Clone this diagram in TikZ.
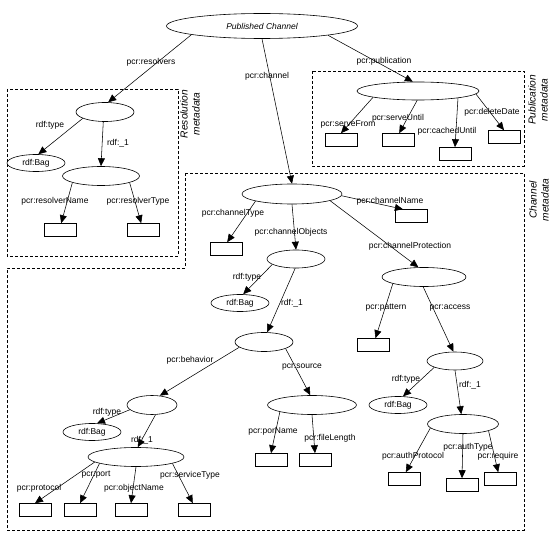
\documentclass[tikz,border=0pt]{standalone}
\usepackage{fontspec}
\setmainfont{Liberation Sans}
\usetikzlibrary{shapes.geometric,arrows.meta}

\tikzset{
  res/.style={ellipse,draw,line width=0.6pt,inner sep=0pt,minimum height=19pt,minimum width=#1},
  bag/.style={ellipse,draw,line width=0.6pt,inner sep=0pt,minimum height=17pt,minimum width=58pt},
  lit/.style={rectangle,draw,line width=0.6pt,inner sep=0pt,minimum width=32pt,minimum height=13pt},
  link/.style={-{Triangle[length=8pt,width=7pt]},line width=0.55pt},
  lbl/.style={inner sep=0pt},
  area/.style={dash pattern=on 3pt off 2pt,line width=0.6pt},
  tag/.style={rotate=90,align=center,inner sep=0pt,font=\fontsize{10.2}{12}\selectfont\itshape}
}

\begin{document}
\begin{tikzpicture}[x=1pt,y=-1pt,font=\fontsize{8.5}{10}\selectfont]
\useasboundingbox (0,0) rectangle (550,535);

\draw[area] (7,89) rectangle (178,256);
\draw[area] (312,71) rectangle (524,166);
\draw[area] (185,173) -- (524,173) -- (524,530) -- (7,530) -- (7,268) -- (185,268) -- cycle;
\node[tag] (tres) at (190,114) {Resolution\\metadata};
\node[tag] (tpub) at (538,100) {Publication\\metadata};
\node[tag] (tchan) at (539,200) {Channel\\metadata};

\node[res=191pt,minimum height=25pt,font=\fontsize{8.5}{10}\selectfont\itshape] (pc) at (262,26) {Published Channel};

\begin{scope}
\node[res=58pt] (r0) at (105,112) {};
\node[bag] (rbag) at (36,163) {rdf:Bag};
\node[res=77pt] (r1) at (101,176) {};
\node[lit] (rname) at (60,230) {};
\node[lit] (rtype) at (143,230) {};

\draw[link] (pc.187) -- (r0.72);
\draw[link] (r0.196) -- (rbag.75);
\draw[link] (r0.260) -- (r1.north);
\draw[link] (r1.193) -- (rname.80);
\draw[link] (r1.347) -- (rtype.105);

\node[lbl] (lresolvers) at (151,62) {pcr:resolvers};
\node[lbl] (lrtype) at (50,125) {rdf:type};
\node[lbl] (lrone) at (118,143) {rdf:\_1};
\node[lbl] (lrname) at (55,201) {pcr:resolverName};
\node[lbl] (lrtypename) at (138,201) {pcr:resolverType};
\end{scope}

\begin{scope}
\node[res=122pt,minimum height=18pt] (p0) at (418,91) {};
\node[lit] (sfrom) at (341,140) {};
\node[lit] (suntil) at (398,140) {};
\node[lit] (cuntil) at (455,154) {};
\node[lit] (ddate) at (504,137) {};

\draw[link] (pc.352) -- (p0.119);
\draw[link] (p0.188) -- (sfrom.north);
\draw[link] (p0.265) -- (suntil.80);
\draw[link] (p0.350) -- (cuntil.north);
\draw[link] (p0.357) -- (ddate.north);

\node[lbl] (lpub) at (384,61) {pcr:publication};
\node[lbl] (lsfrom) at (348,124) {pcr:serveFrom};
\node[lbl] (lsuntil) at (398,118) {pcr:serveUntil};
\node[lbl] (lcuntil) at (447,131) {pcr:cachedUntil};
\node[lbl] (lddate) at (492,112) {pcr:deleteDate};
\end{scope}

\begin{scope}
\node[res=100pt,minimum height=20pt] (c0) at (292,194) {};
\node[lit] (ctype) at (226,249) {};
\node[lit] (cname) at (411,216) {};
\node[res=58pt,minimum height=18pt] (c1) at (296,259) {};
\node[bag] (obag) at (240,303) {rdf:Bag};
\node[res=58pt] (c2) at (264,342) {};
\node[res=84pt] (c3) at (424,277) {};
\node[lit] (pattern) at (373,345) {};
\node[res=56pt,minimum height=18pt] (c4) at (455,361) {};
\node[bag] (abag) at (398,405) {rdf:Bag};
\node[res=71pt] (c5) at (463,424) {};
\node[lit] (aproto) at (404,479) {};
\node[lit] (atype) at (462,485) {};
\node[lit] (areq) at (500,479) {};
\node[res=50pt] (c6) at (152,405) {};
\node[bag] (bbag) at (92,432) {rdf:Bag};
\node[res=96pt] (c7) at (136,457) {};
\node[lit] (proto) at (35,510) {};
\node[lit] (port) at (80,510) {};
\node[lit] (oname) at (131,510) {};
\node[lit] (stype) at (194,510) {};
\node[res=89pt] (c8) at (312,405) {};
\node[lit] (pname) at (271,460) {};
\node[lit] (flen) at (315,460) {};

\draw[link] (pc.south) -- (c0.north);
\draw[link] (c0.191) -- (ctype.80);
\draw[link] (c0.south) -- (c1.north);
\draw[link] (c0.358) -- (cname.140);
\draw[link] (c0.350) -- (c3.120);
\draw[link] (c1.193) -- (obag.70);
\draw[link] (c1.265) -- (c2.72);
\draw[link] (c2.192) -- (c6.50);
\draw[link] (c2.343) -- (c8.100);
\draw[link] (c3.192) -- (pattern.70);
\draw[link] (c3.265) -- (c4.100);
\draw[link] (c4.197) -- (abag.60);
\draw[link] (c4.south) -- (c5.100);
\draw[link] (c5.187) -- (aproto.75);
\draw[link] (c5.south) -- (atype.north);
\draw[link] (c5.345) -- (areq.105);
\draw[link] (c6.192) -- (bbag.60);
\draw[link] (c6.290) -- (c7.80);
\draw[link] (c7.187) -- (proto.north);
\draw[link] (c7.190) -- (port.north);
\draw[link] (c7.south) -- (oname.north);
\draw[link] (c7.350) -- (stype.100);
\draw[link] (c8.192) -- (pname.north);
\draw[link] (c8.south) -- (flen.north);

\node[lbl] (lchan) at (267,76) {pcr:channel};
\node[lbl] (lctype) at (233,213) {pcr:channelType};
\node[lbl] (lcobj) at (291,232) {pcr:channelObjects};
\node[lbl] (lcname) at (390,201) {pcr:channelName};
\node[lbl] (lcprot) at (410,246) {pcr:channelProtection};
\node[lbl] (lotype) at (247,277) {rdf:type};
\node[lbl] (loone) at (292,303) {rdf:\_1};
\node[lbl] (lbehav) at (190,360) {pcr:behavior};
\node[lbl] (lsource) at (302,367) {pcr:source};
\node[lbl] (lpattern) at (386,308) {pcr:pattern};
\node[lbl] (laccess) at (450,308) {pcr:access};
\node[lbl] (latype) at (406,379) {rdf:type};
\node[lbl] (laone) at (470,385) {rdf:\_1};
\node[lbl] (laproto) at (413,456) {pcr:authProtocol};
\node[lbl] (latypename) at (468,447) {pcr:authType};
\node[lbl] (lareq) at (498,456) {pcr:require};
\node[lbl] (lbtype) at (107,412) {rdf:type};
\node[lbl] (lbone) at (142,440) {rdf:\_1};
\node[lbl] (lproto) at (39,488) {pcr:protocol};
\node[lbl] (lport) at (96,475) {pcr:port};
\node[lbl] (loname) at (134,488) {pcr:objectName};
\node[lbl] (lstype) at (190,475) {pcr:serviceType};
\node[lbl] (lpname) at (273,431) {pcr:porName};
\node[lbl] (lflen) at (330,438) {pcr:fileLength};
\end{scope}

\end{tikzpicture}
\end{document}
